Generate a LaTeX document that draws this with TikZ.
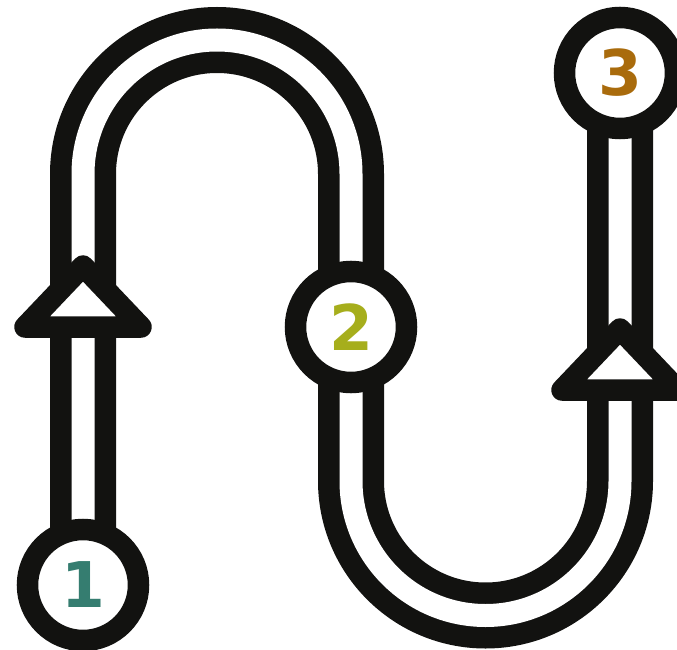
\documentclass[tikz,border=0pt]{standalone}
\usepackage{xcolor}
\usepackage{fontspec}
\usepackage{tikz}
\usetikzlibrary{positioning,backgrounds,calc}
\newfontfamily\stopfont{DejaVu Sans}
\definecolor{roadInk}{HTML}{121210}
\definecolor{stopTeal}{HTML}{357D70}
\definecolor{stopOlive}{HTML}{A6AE1C}
\definecolor{stopBrown}{HTML}{A96B0C}
\tikzset{
  road/.style={draw=roadInk, line width=21.5pt, double=white, double distance=23pt},
  stopring/.style={circle, draw=roadInk, line width=21.5pt, fill=white, minimum size=111pt, inner sep=0pt, font=\stopfont\bfseries\fontsize{63pt}{63pt}\selectfont, text=#1},
  arrowtri/.style={draw=roadInk, fill=white, line width=21.5pt, line join=round},
}
\begin{document}
\begin{tikzpicture}[x=1pt,y=1pt]
\useasboundingbox (0,0) rectangle (677,649);
\node[stopring=stopTeal] (n1) at (83,64) {1};
\node[stopring=stopOlive] (n2) at (351,322) {2};
\node[stopring=stopBrown] (n3) at (620,576) {3};
\coordinate (a1) at (83,383);
\coordinate (a2) at (620,320);
\begin{pgfonlayer}{background}
\draw[road] (n1.center) -- (83,475) arc[start angle=180, end angle=0, radius=134] -- (n2.center) -- (351,168) arc[start angle=180, end angle=360, radius=134.5] -- (n3.center);
\draw[arrowtri] (a1) -- ++(58,-61) -- ++(-116,0) -- cycle;
\draw[arrowtri] (a2) -- ++(58,-61) -- ++(-116,0) -- cycle;
\end{pgfonlayer}
\end{tikzpicture}
\end{document}
